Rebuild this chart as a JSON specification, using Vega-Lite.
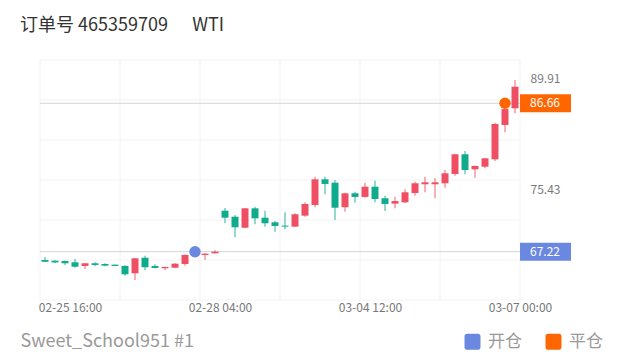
{
  "$schema": "https://vega.github.io/schema/vega-lite/v6.json",
  "width": 480,
  "height": 240,
  "autosize": {"type": "none"},
  "padding": {"left": 40, "top": 60, "right": 100, "bottom": 64},
  "background": "#ffffff",
  "config": {
    "font": "Noto Sans CJK SC",
    "view": {"stroke": null},
    "title": {"anchor": "start", "dx": 0, "fontSize": 18, "color": "#333333", "fontWeight": "normal", "offset": 25}
  },
  "title": "订单号 465359709\u00a0\u00a0\u00a0\u00a0\u00a0\u00a0WTI",
  "datasets": {
    "candles": [
      {"i": 0, "o": 66.13, "h": 66.53, "l": 65.87, "c": 65.90},
      {"i": 1, "o": 66.04, "h": 66.10, "l": 65.75, "c": 65.81},
      {"i": 2, "o": 66.00, "h": 66.05, "l": 65.48, "c": 65.70},
      {"i": 3, "o": 65.83, "h": 66.26, "l": 65.12, "c": 65.25},
      {"i": 4, "o": 65.35, "h": 65.72, "l": 64.95, "c": 65.70},
      {"i": 5, "o": 65.70, "h": 65.83, "l": 65.31, "c": 65.48},
      {"i": 6, "o": 65.61, "h": 65.70, "l": 65.30, "c": 65.39},
      {"i": 7, "o": 65.52, "h": 65.55, "l": 65.30, "c": 65.35},
      {"i": 8, "o": 65.35, "h": 65.48, "l": 64.08, "c": 64.26},
      {"i": 9, "o": 64.39, "h": 66.40, "l": 63.51, "c": 66.35},
      {"i": 10, "o": 66.43, "h": 66.70, "l": 64.82, "c": 65.18},
      {"i": 11, "o": 65.35, "h": 65.57, "l": 65.03, "c": 65.09},
      {"i": 12, "o": 65.05, "h": 65.25, "l": 64.78, "c": 65.22},
      {"i": 13, "o": 65.12, "h": 65.70, "l": 65.08, "c": 65.65},
      {"i": 14, "o": 65.61, "h": 66.85, "l": 65.39, "c": 66.79},
      {"i": 15, "o": 66.95, "h": 67.60, "l": 66.80, "c": 67.40},
      {"i": 16, "o": 66.79, "h": 67.00, "l": 66.13, "c": 66.96},
      {"i": 17, "o": 67.01, "h": 67.40, "l": 66.98, "c": 67.22},
      {"i": 18, "o": 72.59, "h": 72.94, "l": 70.94, "c": 71.67},
      {"i": 19, "o": 71.80, "h": 72.03, "l": 69.11, "c": 70.42},
      {"i": 20, "o": 70.36, "h": 72.95, "l": 70.30, "c": 72.90},
      {"i": 21, "o": 72.90, "h": 73.11, "l": 70.81, "c": 71.59},
      {"i": 22, "o": 71.67, "h": 72.59, "l": 70.50, "c": 70.94},
      {"i": 23, "o": 71.07, "h": 71.24, "l": 69.84, "c": 70.59},
      {"i": 24, "o": 70.63, "h": 72.38, "l": 70.15, "c": 70.50},
      {"i": 25, "o": 70.50, "h": 72.25, "l": 70.45, "c": 72.12},
      {"i": 26, "o": 71.94, "h": 73.69, "l": 71.80, "c": 73.47},
      {"i": 27, "o": 73.34, "h": 77.04, "l": 73.04, "c": 76.70},
      {"i": 28, "o": 76.70, "h": 77.04, "l": 74.74, "c": 76.09},
      {"i": 29, "o": 76.26, "h": 76.61, "l": 71.37, "c": 72.98},
      {"i": 30, "o": 73.04, "h": 74.95, "l": 72.46, "c": 74.87},
      {"i": 31, "o": 74.87, "h": 75.08, "l": 73.64, "c": 74.39},
      {"i": 32, "o": 74.39, "h": 76.26, "l": 74.30, "c": 75.73},
      {"i": 33, "o": 75.73, "h": 76.52, "l": 73.69, "c": 74.12},
      {"i": 34, "o": 74.22, "h": 74.56, "l": 72.55, "c": 73.47},
      {"i": 35, "o": 73.51, "h": 74.42, "l": 72.90, "c": 73.86},
      {"i": 36, "o": 73.69, "h": 75.39, "l": 73.60, "c": 75.00},
      {"i": 37, "o": 74.91, "h": 76.39, "l": 74.56, "c": 76.18},
      {"i": 38, "o": 76.05, "h": 77.04, "l": 75.00, "c": 76.31},
      {"i": 39, "o": 76.05, "h": 76.83, "l": 74.21, "c": 76.31},
      {"i": 40, "o": 76.18, "h": 77.92, "l": 75.60, "c": 77.49},
      {"i": 41, "o": 77.40, "h": 80.05, "l": 77.18, "c": 79.98},
      {"i": 42, "o": 79.98, "h": 80.41, "l": 77.36, "c": 77.92},
      {"i": 43, "o": 78.01, "h": 78.50, "l": 76.91, "c": 78.45},
      {"i": 44, "o": 78.35, "h": 79.50, "l": 78.14, "c": 79.45},
      {"i": 45, "o": 79.32, "h": 84.12, "l": 79.10, "c": 83.95},
      {"i": 46, "o": 83.82, "h": 86.80, "l": 82.86, "c": 85.90},
      {"i": 47, "o": 86.00, "h": 89.70, "l": 85.35, "c": 88.83}
    ],
    "trades": [
      {"i": 15, "price": 67.22, "kind": "开仓", "label": "67.22"},
      {"i": 46, "price": 86.66, "kind": "平仓", "label": "86.66"}
    ],
    "vgrid": [{"v": -0.5}, {"v": 7.5}, {"v": 15.5}, {"v": 23.5}, {"v": 31.5}, {"v": 39.5}, {"v": 47.5}],
    "hgrid": [{"p": 60.89}, {"p": 66.13}, {"p": 71.37}, {"p": 76.61}, {"p": 81.85}, {"p": 87.09}, {"p": 92.33}]
  },
  "layer": [
    {
      "data": {"name": "vgrid"},
      "mark": {"type": "rule", "color": "#f2f2f2", "strokeWidth": 1},
      "encoding": {
        "x": {
          "field": "v", "type": "quantitative",
          "scale": {"domain": [-0.5, 47.5], "nice": false, "zero": false, "padding": 0},
          "axis": {
            "values": [2.5, 17.5, 32.5, 47.5],
            "labelExpr": "datum.value == 2.5 ? '02-25 16:00' : datum.value == 17.5 ? '02-28 04:00' : datum.value == 32.5 ? '03-04 12:00' : '03-07 00:00'",
            "grid": false, "ticks": false, "domain": false,
            "labelFlush": false, "labelOverlap": false, "labelBound": false,
            "labelColor": "#777777", "labelFontSize": 12, "labelPadding": 2,
            "title": "Sweet_School951 #1",
            "titleX": -20, "titleY": 41, "titleAlign": "left", "titleAnchor": null,
            "titleBaseline": "middle", "titleFontSize": 18, "titleFontWeight": "normal", "titleColor": "#9a9a9a"
          }
        }
      }
    },
    {
      "data": {"name": "hgrid"},
      "mark": {"type": "rule", "color": "#f2f2f2", "strokeWidth": 1},
      "encoding": {
        "y": {
          "field": "p", "type": "quantitative",
          "scale": {"domain": [60.89, 92.33], "nice": false, "zero": false, "padding": 0},
          "axis": {
            "orient": "right", "values": [89.91, 75.43], "format": ".2f",
            "grid": false, "ticks": false, "domain": false,
            "labelColor": "#7a7a7a", "labelFontSize": 12, "labelPadding": 10, "title": null
          }
        }
      }
    },
    {
      "data": {"name": "trades"},
      "mark": {"type": "rule", "color": "#d4d4d4", "strokeWidth": 1},
      "encoding": {"y": {"field": "price", "type": "quantitative"}}
    },
    {
      "data": {"name": "candles"},
      "mark": {"type": "rule", "strokeWidth": 1.5, "opacity": 0.6},
      "encoding": {
        "x": {"field": "i", "type": "quantitative"},
        "y": {"field": "l", "type": "quantitative"},
        "y2": {"field": "h"},
        "color": {"condition": {"test": "datum.c >= datum.o", "value": "#ef4f63"}, "value": "#10ab8c"}
      }
    },
    {
      "data": {"name": "candles"},
      "mark": {"type": "bar", "width": 7},
      "encoding": {
        "x": {"field": "i", "type": "quantitative"},
        "y": {"field": "o", "type": "quantitative"},
        "y2": {"field": "c"},
        "color": {"condition": {"test": "datum.c >= datum.o", "value": "#ef4f63"}, "value": "#10ab8c"}
      }
    },
    {
      "data": {"name": "trades"},
      "mark": {"type": "point", "filled": true, "opacity": 1, "size": 130},
      "encoding": {
        "x": {"field": "i", "type": "quantitative"},
        "y": {"field": "price", "type": "quantitative"},
        "color": {
          "field": "kind", "type": "nominal",
          "scale": {"domain": ["开仓", "平仓"], "range": ["#6b88e0", "#ff6600"]},
          "legend": {
            "orient": "none", "legendX": 424, "legendY": 273, "direction": "horizontal", "title": null,
            "symbolType": "M-0.65,-1H0.65Q1,-1 1,-0.65V0.65Q1,1 0.65,1H-0.65Q-1,1 -1,0.65V-0.65Q-1,-1 -0.65,-1Z",
            "symbolSize": 256, "symbolOpacity": 1, "symbolStrokeWidth": 0,
            "labelFontSize": 17, "labelColor": "#999999", "labelOffset": 7, "columnPadding": 23
          }
        }
      }
    },
    {
      "data": {"name": "trades"},
      "mark": {"type": "rect", "x2Offset": 51, "yOffset": -9, "y2Offset": 9},
      "encoding": {
        "x": {"datum": 47.5, "type": "quantitative"},
        "x2": {"datum": 47.5},
        "y": {"field": "price", "type": "quantitative"},
        "y2": {"field": "price"},
        "color": {"field": "kind", "type": "nominal", "legend": null}
      }
    },
    {
      "data": {"name": "trades"},
      "mark": {"type": "text", "dx": 25, "color": "#ffffff", "fontSize": 12, "baseline": "middle", "align": "center"},
      "encoding": {
        "x": {"datum": 47.5, "type": "quantitative"},
        "y": {"field": "price", "type": "quantitative"},
        "text": {"field": "label"}
      }
    }
  ]
}
